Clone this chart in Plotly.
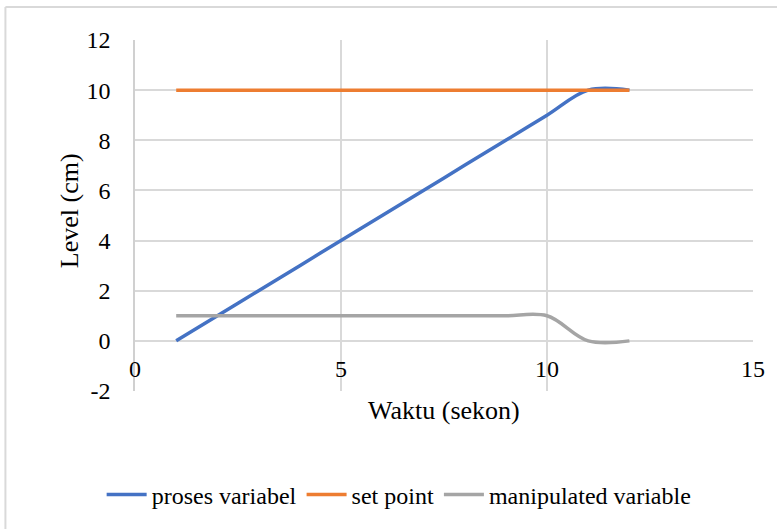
import plotly.graph_objects as go

waktu = [1, 2, 3, 4, 5, 6, 7, 8, 9, 10, 11, 12]
proses_variabel = [0, 1, 2, 3, 4, 5, 6, 7, 8, 9, 10, 10]
set_point = [10, 10, 10, 10, 10, 10, 10, 10, 10, 10, 10, 10]
manipulated_variable = [1, 1, 1, 1, 1, 1, 1, 1, 1, 1, 0, 0]

y_tick_vals = [-2, 0, 2, 4, 6, 8, 10, 12]
y_tick_text = ["-2", "0", "2", "4", "6", "8", "10", "12"]
x_tick_vals = [0, 5, 10, 15]
x_tick_text = ["0", "5", "10", "15"]

FONT = "Times New Roman"
GRID = "#D9D9D9"

fig = go.Figure()
fig.add_trace(go.Scatter(x=waktu, y=proses_variabel, mode="lines", name="proses variabel",
                         line=dict(color="#4472C4", width=3.5, shape="spline", smoothing=1)))
fig.add_trace(go.Scatter(x=waktu, y=set_point, mode="lines", name="set point",
                         line=dict(color="#ED7D31", width=3.5, shape="spline", smoothing=1)))
fig.add_trace(go.Scatter(x=waktu, y=manipulated_variable, mode="lines", name="manipulated variable",
                         line=dict(color="#A5A5A5", width=3.5, shape="spline", smoothing=1)))

L, R, T, B = 135, 22, 40, 138
W, H = 777, 529
pw, ph = W - L - R, H - T - B

def px2x(p):
    return (p - L) / pw

def py2y(p):
    return (H - B - p) / ph

fig.update_layout(
    width=W, height=H,
    margin=dict(l=L, r=R, t=T, b=B, pad=0),
    paper_bgcolor="white", plot_bgcolor="white",
    font=dict(family=FONT, size=24, color="#000000"),
    showlegend=True,
    legend=dict(orientation="h", x=px2x(400), xanchor="center", y=py2y(495), yanchor="middle",
                font=dict(family=FONT, size=24, color="#000000"), bgcolor="rgba(0,0,0,0)",
                itemwidth=40),
    xaxis=dict(range=[0, 15], tickvals=x_tick_vals, ticktext=x_tick_text, showgrid=True,
               gridcolor=GRID, gridwidth=1.5,
               zeroline=False, showline=False, ticks="", anchor="free",
               position=2 / 14, ticklabelstandoff=11,
               tickfont=dict(family=FONT, size=24, color="#000000")),
    yaxis=dict(range=[-2, 12], tickvals=y_tick_vals, ticktext=y_tick_text, showgrid=True,
               gridcolor=GRID, gridwidth=1.5,
               zeroline=False, showline=True, linecolor="#D0D0D0", linewidth=1.5, ticks="",
               ticklabelstandoff=18,
               tickfont=dict(family=FONT, size=24, color="#000000")),
    annotations=[
        dict(text="Waktu (sekon)", xref="paper", yref="paper", x=px2x(445), y=py2y(410),
             xanchor="center", yanchor="middle", showarrow=False,
             font=dict(family=FONT, size=26, color="#000000")),
        dict(text="Level (cm)", xref="paper", yref="paper", x=px2x(69), y=py2y(211),
             xanchor="center", yanchor="middle", showarrow=False, textangle=-90,
             font=dict(family=FONT, size=26, color="#000000")),
    ],
    shapes=[
        dict(type="line", xref="paper", yref="paper", x0=px2x(5), x1=px2x(790), y0=py2y(7), y1=py2y(7),
             line=dict(color=GRID, width=2)),
        dict(type="line", xref="paper", yref="paper", x0=px2x(5), x1=px2x(5), y0=py2y(7), y1=py2y(540),
             line=dict(color=GRID, width=2)),
    ],
)

fig.write_html("out.html")
